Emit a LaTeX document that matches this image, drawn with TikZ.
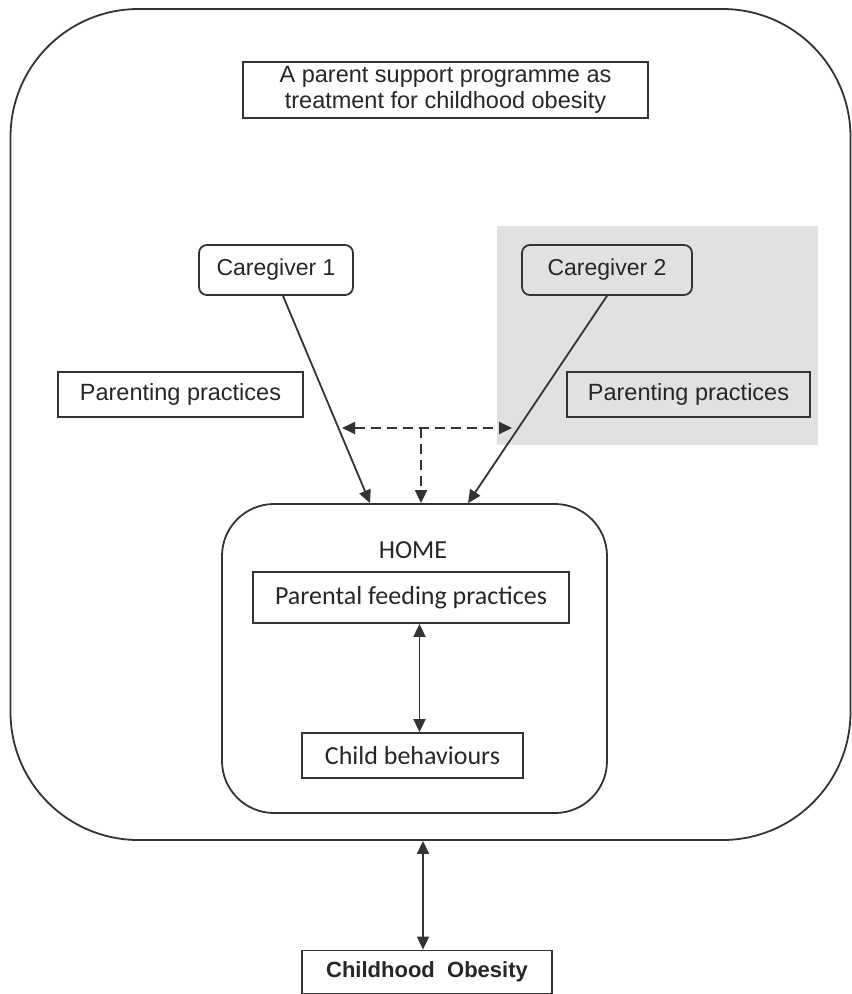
\documentclass[tikz,border=0pt]{standalone}
\usepackage{fontspec}
\setmainfont{Liberation Sans}
\newfontfamily\carlito{Carlito}
\usetikzlibrary{arrows.meta,calc}
\definecolor{ln}{HTML}{333333}
\definecolor{tx}{HTML}{262626}
\definecolor{zone}{HTML}{E1E1E1}
\begin{document}
\begin{tikzpicture}[x=1pt,y=-1pt,
  box/.style={draw=ln,line width=1.8pt,text=tx,inner sep=0pt,align=center,
              font=\fontsize{23.5}{26}\selectfont},
  rbox/.style={box,rounded corners=8pt},
  cbox/.style={box,font=\carlito\fontsize{26}{30}\selectfont},
  tip/.tip={Triangle[length=13pt,width=12pt]},
  conn/.style={draw=ln,line width=1.8pt,-tip},
  dconn/.style={draw=ln,line width=1.8pt,dash pattern=on 10pt off 6pt,-tip},
  biconn/.style={draw=ln,line width=1.8pt,tip-tip}
]
\useasboundingbox (0,0) rectangle (852,994);
% shaded zone of caregiver 2
\fill[zone] (497,226) rectangle (818,445);
% outer programme box
\node[draw=ln,line width=1.8pt,rounded corners=128pt,minimum width=840pt,minimum height=831pt,inner sep=0pt] (outer) at (430.5,424.5) {};
\node[box,minimum width=405pt,minimum height=56pt] (title) at (445.5,90)
  {A parent support programme as\\treatment for childhood obesity};
\node[rbox,minimum width=154pt,minimum height=50pt,font=\fontsize{23}{26}\selectfont] (cg1) at (276,270) {Caregiver 1};
\node[rbox,fill=zone,minimum width=170pt,minimum height=50pt,font=\fontsize{23}{26}\selectfont] (cg2) at (607,270) {Caregiver 2};
\node[box,minimum width=245pt,minimum height=45pt] (pp1) at (180.5,394.5) {Parenting practices};
\node[box,fill=zone,minimum width=243pt,minimum height=45pt] (pp2) at (688.5,394.5) {Parenting practices};
% home
\node[draw=ln,line width=1.8pt,rounded corners=52pt,minimum width=385pt,minimum height=309pt,inner sep=0pt] (home) at (414.5,658.5) {};
\node[text=tx,font=\carlito\fontsize{26}{30}\selectfont,inner sep=0pt] (hometext) at (413,550) {HOME};
\node[cbox,minimum width=316pt,minimum height=51pt] (pfp) at (411,597.5) {Parental feeding practices};
\node[cbox,minimum width=221pt,minimum height=45pt] (cb) at (412.5,755.5) {Child behaviours};
\node[box,font=\bfseries\fontsize{22}{25}\selectfont,minimum width=250pt,minimum height=43pt] (co) at (427,972) {Childhood\ \ Obesity};
% connectors
\coordinate (dl) at (342,428);
\coordinate (dr) at (512,428);
\coordinate (dm) at (421,428);
\draw[conn] ($(cg1.south)+(7,0)$) -- ($(home.north)+(-44.5,0)$);
\draw[conn] (cg2.south) -- ($(home.north)+(53.5,0)$);
\draw[dconn,tip-tip] (dl) -- (dr);
\draw[dconn] (dm) -- (dm |- home.north);
\draw[biconn] ($(pfp.south)+(8.5,0)$) -- ($(cb.north)+(7,0)$);
\draw[biconn] ($(outer.south)+(-7.5,0)$) -- ($(co.north)+(-4,0)$);
\end{tikzpicture}
\end{document}
